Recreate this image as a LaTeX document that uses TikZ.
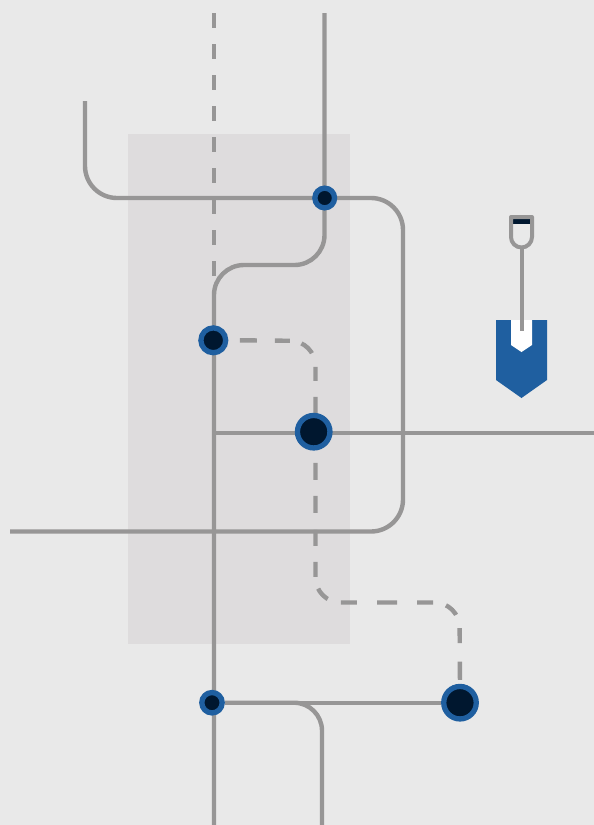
\documentclass[tikz,border=0pt]{standalone}
\definecolor{bgcol}{HTML}{E9E9E9}
\definecolor{zonecol}{HTML}{DEDCDD}
\definecolor{linecol}{HTML}{979696}
\definecolor{ringcol}{HTML}{1F5FA0}
\definecolor{corecol}{HTML}{00172F}
\pgfdeclarelayer{lines}
\pgfsetlayers{lines,main}
\tikzset{
	track/.style={draw=linecol, line width=4.4pt},
	stop/.style={circle, draw=ringcol, fill=corecol, inner sep=0pt, line width=5.3pt, minimum size=#1},
}
\begin{document}
\begin{tikzpicture}[x=1pt, y=-1pt]
	\path[use as bounding box] (0,0) rectangle (594,825);

	% stops
	\node[stop=19.7pt] (stopA) at (324.7,198) {};
	\node[stop=24.8pt] (stopB) at (213.3,340.3) {};
	\node[stop=32.5pt] (stopC) at (313.7,431.7) {};
	\node[stop=20.4pt] (stopD) at (212,702.7) {};
	\node[stop=32.5pt] (stopE) at (460,702.7) {};

	% free line ends
	\coordinate (dashTop) at (214,13);
	\coordinate (dashEnd) at (214,276);
	\coordinate (mainTop) at (324.5,13);
	\coordinate (mainEnd) at (214,825);
	\coordinate (hookStart) at (85,101);
	\coordinate (hookEnd) at (10,531.5);
	\coordinate (crossStart) at (214,433);
	\coordinate (crossEnd) at (594,433);
	\coordinate (branchEnd) at (322,825);

	\begin{pgfonlayer}{lines}
		\fill[bgcol] (0,0) rectangle (594,825);
		\fill[zonecol] (128,134) rectangle (350,644);
		\draw[track, dash pattern=on 15pt off 16pt] (dashTop) -- (dashEnd);
		\draw[track, rounded corners=32pt] (hookStart) -- (85,198) -- (403,198) -- (403,531.5) -- (hookEnd);
		\draw[track, rounded corners=30pt] (mainTop) -- (324.5,265) -- (214,265) -- (mainEnd);
		\draw[track] (crossStart) -- (crossEnd);
		\draw[track] (stopD) -- (stopE);
		\draw[track, rounded corners=28pt] (stopD) -- (322,702.7) -- (branchEnd);
		\draw[track, rounded corners=25pt, dash pattern=on 17pt off 18pt on 15pt off 12pt on 14.5pt off 14.3pt on 14pt off 16pt on 16pt off 50pt on 17pt off 16pt on 17pt off 17pt on 16pt off 16pt on 15pt off 12.2pt on 14.3pt off 13.7pt on 16pt off 20.4pt on 20pt off 20pt on 16pt off 13.2pt on 14.1pt off 14pt on 15pt off 18.4pt on 18.3pt off 10pt]
			([xshift=11.5pt]stopB.east) -- (315.5,341) -- (315.5,602.5) -- (459.5,602.5) -- ([yshift=-3.8pt]stopE.north);
	\end{pgfonlayer}

	% spade
	\fill[ringcol] (496,320) -- (547,320) -- (547,380) -- (521.5,398) -- (496,380) -- cycle;
	\fill[white] (511,320) -- (532,320) -- (532,345) -- (521.5,352) -- (511,345) -- cycle;
	\fill[corecol] (513,219) rectangle (530,224);
	\draw[linecol, line width=4pt, line join=round] (511,217) -- (532,217) -- (532,237) arc[start angle=0, end angle=180, radius=10.5] -- cycle;
	\draw[linecol, line width=4pt] (521.5,248) -- (521.5,331);
\end{tikzpicture}
\end{document}
